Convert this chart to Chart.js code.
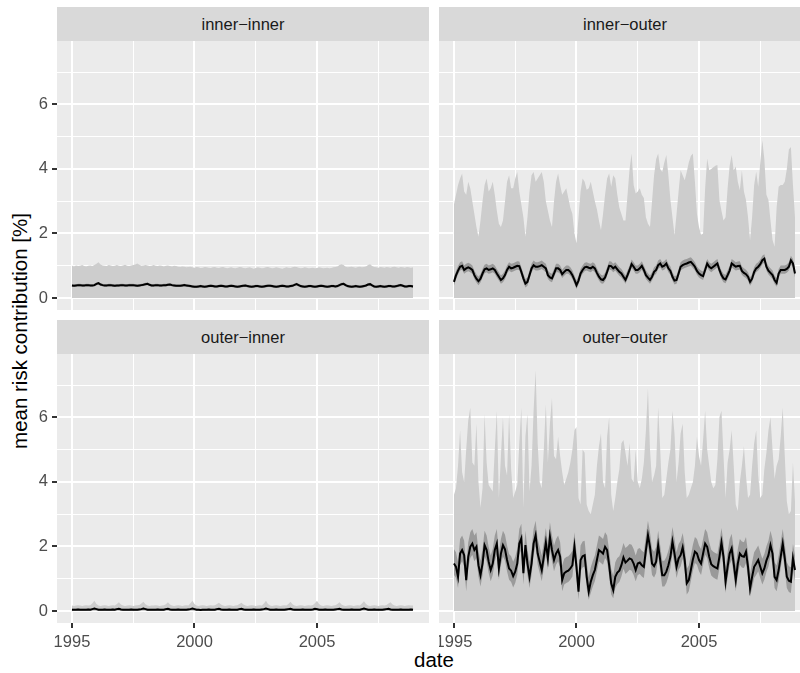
<!DOCTYPE html>
<html lang="en">
<head>
  <meta charset="UTF-8" />
  <title>mean risk contribution</title>
  <script src="https://cdn.jsdelivr.net/npm/chart.js"></script>
  <style>
    html, body { margin: 0; padding: 0; background: #fff; overflow: hidden; }
    body { width: 800px; height: 673px; position: relative; font-family: 'Liberation Sans', Arial, sans-serif; }
    .box { position: absolute; }
    .strip {
      position: absolute; background: #D9D9D9; color: #1A1A1A;
      font-size: 16.5px; text-align: center;
    }
    #ylab {
      position: absolute; left: 20px; top: 331px; white-space: nowrap;
      font-size: 20.5px; color: #000;
      transform: translate(-50%, -50%) rotate(-90deg);
    }
    #xlab {
      position: absolute; left: 434px; top: 660px; white-space: nowrap;
      font-size: 20.5px; color: #000;
      transform: translate(-50%, -50%);
    }
  </style>
</head>
<body>

<div id="ylab">mean risk contribution [%]</div>
<div id="xlab">date</div>

<div class="strip" style="left:57px;top:7px;width:372px;height:34px;line-height:34px">inner−inner</div>
<div class="strip" style="left:439px;top:7px;width:372px;height:34px;line-height:34px">inner−outer</div>
<div class="strip" style="left:57px;top:320px;width:372px;height:34px;line-height:34px">outer−inner</div>
<div class="strip" style="left:439px;top:320px;width:372px;height:34px;line-height:34px">outer−outer</div>

<div class="box" style="left:0;top:41px"><canvas id="c1" width="429" height="269"></canvas></div>
<div class="box" style="left:439px;top:41px"><canvas id="c2" width="372" height="269"></canvas></div>
<div class="box" style="left:0;top:354px"><canvas id="c3" width="429" height="309"></canvas></div>
<div class="box" style="left:439px;top:354px"><canvas id="c4" width="372" height="309"></canvas></div>

<script>
  // monthly observations, Jan 1995 .. Dec 2008
  const START_YEAR = 1995;
  const N_MONTHS = 168;

  const xTicks = [1995, 1997.5, 2000, 2002.5, 2005, 2007.5];
  const yTicks = [0, 1, 2, 3, 4, 5, 6, 7];

  // inner-inner
  const iiMean = [
    0.39,0.38,0.39,0.40,0.40,0.39,0.39,0.40,0.40,0.39,0.39,0.40,
    0.44,0.46,0.42,0.40,0.39,0.39,0.40,0.40,0.39,0.38,0.39,0.39,
    0.40,0.40,0.39,0.39,0.40,0.40,0.40,0.39,0.38,0.39,0.40,0.41,
    0.43,0.44,0.41,0.39,0.39,0.40,0.40,0.39,0.39,0.40,0.40,0.41,
    0.42,0.40,0.39,0.38,0.38,0.38,0.39,0.40,0.39,0.38,0.37,0.36,
    0.35,0.35,0.36,0.37,0.36,0.35,0.36,0.37,0.38,0.37,0.36,0.36,
    0.37,0.38,0.37,0.36,0.36,0.37,0.38,0.37,0.36,0.35,0.36,0.37,
    0.38,0.39,0.37,0.36,0.35,0.36,0.37,0.37,0.36,0.35,0.36,0.37,
    0.38,0.38,0.37,0.36,0.35,0.36,0.37,0.38,0.37,0.36,0.36,0.37,
    0.38,0.41,0.43,0.40,0.37,0.36,0.35,0.36,0.37,0.37,0.36,0.35,
    0.36,0.37,0.38,0.37,0.36,0.35,0.36,0.37,0.37,0.36,0.37,0.40,
    0.43,0.44,0.40,0.37,0.36,0.35,0.36,0.37,0.36,0.35,0.36,0.37,
    0.39,0.42,0.43,0.39,0.36,0.35,0.36,0.37,0.36,0.35,0.36,0.37,
    0.37,0.36,0.36,0.37,0.39,0.40,0.38,0.36,0.36,0.37,0.37,0.36
  ];
  const iiLo = [
    0.35,0.34,0.35,0.36,0.36,0.35,0.35,0.36,0.36,0.35,0.35,0.36,
    0.40,0.42,0.38,0.36,0.35,0.35,0.36,0.36,0.35,0.34,0.35,0.35,
    0.36,0.36,0.35,0.35,0.36,0.36,0.36,0.35,0.34,0.35,0.36,0.37,
    0.39,0.40,0.37,0.35,0.35,0.36,0.36,0.35,0.35,0.36,0.36,0.37,
    0.38,0.36,0.35,0.34,0.34,0.34,0.35,0.36,0.35,0.34,0.33,0.32,
    0.31,0.31,0.32,0.33,0.32,0.31,0.32,0.33,0.34,0.33,0.32,0.32,
    0.33,0.34,0.33,0.32,0.32,0.33,0.34,0.33,0.32,0.31,0.32,0.33,
    0.34,0.35,0.33,0.32,0.31,0.32,0.33,0.33,0.32,0.31,0.32,0.33,
    0.34,0.34,0.33,0.32,0.31,0.32,0.33,0.34,0.33,0.32,0.32,0.33,
    0.34,0.37,0.39,0.36,0.33,0.32,0.31,0.32,0.33,0.33,0.32,0.31,
    0.32,0.33,0.34,0.33,0.32,0.31,0.32,0.33,0.33,0.32,0.33,0.36,
    0.39,0.40,0.36,0.33,0.32,0.31,0.32,0.33,0.32,0.31,0.32,0.33,
    0.35,0.38,0.39,0.35,0.32,0.31,0.32,0.33,0.32,0.31,0.32,0.33,
    0.33,0.32,0.32,0.33,0.35,0.36,0.34,0.32,0.32,0.33,0.33,0.32
  ];
  const iiHi = [
    0.43,0.42,0.43,0.44,0.44,0.43,0.43,0.44,0.44,0.43,0.43,0.44,
    0.48,0.50,0.46,0.44,0.43,0.43,0.44,0.44,0.43,0.42,0.43,0.43,
    0.44,0.44,0.43,0.43,0.44,0.44,0.44,0.43,0.42,0.43,0.44,0.45,
    0.47,0.48,0.45,0.43,0.43,0.44,0.44,0.43,0.43,0.44,0.44,0.45,
    0.46,0.44,0.43,0.42,0.42,0.42,0.43,0.44,0.43,0.42,0.41,0.40,
    0.39,0.39,0.40,0.41,0.40,0.39,0.40,0.41,0.42,0.41,0.40,0.40,
    0.41,0.42,0.41,0.40,0.40,0.41,0.42,0.41,0.40,0.39,0.40,0.41,
    0.42,0.43,0.41,0.40,0.39,0.40,0.41,0.41,0.40,0.39,0.40,0.41,
    0.42,0.42,0.41,0.40,0.39,0.40,0.41,0.42,0.41,0.40,0.40,0.41,
    0.42,0.45,0.47,0.44,0.41,0.40,0.39,0.40,0.41,0.41,0.40,0.39,
    0.40,0.41,0.42,0.41,0.40,0.39,0.40,0.41,0.41,0.40,0.41,0.44,
    0.47,0.48,0.44,0.41,0.40,0.39,0.40,0.41,0.40,0.39,0.40,0.41,
    0.43,0.46,0.47,0.43,0.40,0.39,0.40,0.41,0.40,0.39,0.40,0.41,
    0.41,0.40,0.40,0.41,0.43,0.44,0.42,0.40,0.40,0.41,0.41,0.40
  ];
  const iiMax = [
    1.00,0.98,1.01,0.99,1.00,1.02,0.99,0.98,1.00,1.01,0.99,1.02,
    1.06,1.11,1.04,1.01,1.00,0.99,1.02,1.01,0.99,1.00,1.02,1.00,
    0.99,1.01,1.03,1.00,0.99,1.01,1.02,1.04,1.07,1.03,1.00,1.01,
    1.02,1.01,0.99,1.00,1.02,1.00,0.99,1.01,1.00,0.98,1.00,1.01,
    0.99,0.98,1.00,0.99,0.97,0.96,0.98,0.97,0.95,0.96,0.97,0.95,
    0.94,0.96,0.95,0.93,0.94,0.96,0.95,0.94,0.93,0.95,0.96,0.94,
    0.93,0.95,0.96,0.94,0.92,0.94,0.95,0.93,0.92,0.94,0.96,0.95,
    0.93,0.92,0.94,0.95,0.93,0.91,0.93,0.95,0.94,0.92,0.93,0.95,
    0.96,0.94,0.92,0.93,0.95,0.94,0.92,0.91,0.93,0.95,0.94,0.93,
    0.95,0.97,0.96,0.94,0.92,0.93,0.95,0.94,0.92,0.93,0.94,0.92,
    0.93,0.95,0.94,0.92,0.93,0.94,0.92,0.93,0.95,0.96,0.98,1.02,
    1.05,1.02,0.97,0.95,0.96,0.97,0.95,0.94,0.96,0.97,0.95,0.96,
    0.98,1.02,1.05,0.99,0.96,0.95,0.94,0.96,0.95,0.94,0.96,0.95,
    0.94,0.96,0.97,0.95,0.94,0.96,0.95,0.94,0.96,0.95,0.94,0.95
  ];

  // inner-outer
  const ioMean = [
    0.50,0.70,0.85,0.97,1.00,0.87,0.92,0.95,0.92,0.87,0.71,0.60,
    0.52,0.60,0.76,0.89,0.92,0.87,0.89,0.92,0.87,0.76,0.66,0.56,
    0.61,0.71,0.87,0.97,0.92,0.94,0.97,1.00,0.99,0.81,0.61,0.45,
    0.50,0.71,0.92,1.02,0.97,0.97,0.99,1.02,0.97,0.92,0.71,0.64,
    0.61,0.76,0.92,0.92,0.87,0.74,0.81,0.87,0.87,0.81,0.71,0.56,
    0.40,0.54,0.76,0.87,0.95,0.97,0.94,0.92,0.97,0.92,0.78,0.66,
    0.58,0.56,0.64,0.81,1.00,0.99,0.92,0.97,0.89,0.81,0.76,0.66,
    0.56,0.71,0.87,1.05,0.97,0.87,0.87,0.92,1.00,0.87,0.71,0.63,
    0.56,0.66,0.81,0.87,1.02,1.07,0.97,1.00,1.07,0.92,0.84,0.66,
    0.54,0.56,0.76,0.97,1.02,1.05,1.07,1.10,1.12,1.05,0.97,0.84,
    0.76,0.71,0.68,0.87,1.07,0.97,0.92,0.97,1.02,1.07,0.87,0.71,
    0.61,0.58,0.71,0.85,1.07,1.02,0.97,0.99,1.00,0.84,0.78,0.74,
    0.66,0.50,0.60,0.81,0.92,0.97,1.05,1.17,1.22,0.97,0.85,0.78,
    0.71,0.56,0.47,0.76,0.87,0.87,0.87,0.90,0.97,1.17,1.07,0.76
  ];
  const ioLo = [
    0.38,0.58,0.73,0.85,0.88,0.75,0.80,0.83,0.80,0.75,0.59,0.48,
    0.40,0.48,0.64,0.77,0.80,0.75,0.77,0.80,0.75,0.64,0.54,0.44,
    0.49,0.59,0.75,0.85,0.80,0.82,0.85,0.88,0.87,0.69,0.49,0.33,
    0.38,0.59,0.80,0.90,0.85,0.85,0.87,0.90,0.85,0.80,0.59,0.52,
    0.49,0.64,0.80,0.80,0.75,0.62,0.69,0.75,0.75,0.69,0.59,0.44,
    0.28,0.42,0.64,0.75,0.83,0.85,0.82,0.80,0.85,0.80,0.66,0.54,
    0.46,0.44,0.52,0.69,0.88,0.87,0.80,0.85,0.77,0.69,0.64,0.54,
    0.44,0.59,0.75,0.93,0.85,0.75,0.75,0.80,0.88,0.75,0.59,0.51,
    0.44,0.54,0.69,0.75,0.90,0.95,0.85,0.88,0.95,0.80,0.72,0.54,
    0.42,0.44,0.64,0.85,0.90,0.93,0.95,0.98,1.00,0.93,0.85,0.72,
    0.64,0.59,0.56,0.75,0.95,0.85,0.80,0.85,0.90,0.95,0.75,0.59,
    0.49,0.46,0.59,0.73,0.95,0.90,0.85,0.87,0.88,0.72,0.66,0.62,
    0.54,0.38,0.48,0.69,0.80,0.85,0.93,1.05,1.10,0.85,0.73,0.66,
    0.59,0.44,0.35,0.64,0.75,0.75,0.75,0.78,0.85,1.05,0.95,0.64
  ];
  const ioHi = [
    0.64,0.84,0.99,1.11,1.14,1.01,1.06,1.09,1.06,1.01,0.85,0.74,
    0.66,0.74,0.90,1.03,1.06,1.01,1.03,1.06,1.01,0.90,0.80,0.70,
    0.75,0.85,1.01,1.11,1.06,1.08,1.11,1.14,1.13,0.95,0.75,0.59,
    0.64,0.85,1.06,1.16,1.11,1.11,1.13,1.16,1.11,1.06,0.85,0.78,
    0.75,0.90,1.06,1.06,1.01,0.88,0.95,1.01,1.01,0.95,0.85,0.70,
    0.54,0.68,0.90,1.01,1.09,1.11,1.08,1.06,1.11,1.06,0.92,0.80,
    0.72,0.70,0.78,0.95,1.14,1.13,1.06,1.11,1.03,0.95,0.90,0.80,
    0.70,0.85,1.01,1.19,1.11,1.01,1.01,1.06,1.14,1.01,0.85,0.77,
    0.70,0.80,0.95,1.01,1.16,1.21,1.11,1.14,1.21,1.06,0.98,0.80,
    0.68,0.70,0.90,1.11,1.16,1.19,1.21,1.24,1.26,1.19,1.11,0.98,
    0.90,0.85,0.82,1.01,1.21,1.11,1.06,1.11,1.16,1.21,1.01,0.85,
    0.75,0.72,0.85,0.99,1.21,1.16,1.11,1.13,1.14,0.98,0.92,0.88,
    0.80,0.64,0.74,0.95,1.06,1.11,1.19,1.31,1.36,1.11,0.99,0.92,
    0.85,0.70,0.61,0.90,1.01,1.01,1.01,1.04,1.11,1.31,1.21,0.90
  ];
  const ioMax = [
    2.9,3.2,3.5,3.7,3.86,3.3,3.2,3.6,3.4,3.0,2.6,2.2,
    1.9,2.4,3.0,3.5,3.7,3.3,3.4,3.6,3.2,2.7,2.3,2.2,
    2.4,3.0,3.6,3.8,3.4,3.4,3.7,3.9,3.3,2.9,2.5,1.9,
    2.5,3.3,3.8,3.9,3.6,3.7,3.8,3.9,3.6,3.0,2.7,2.4,
    2.2,3.0,3.6,3.86,3.5,3.2,3.3,3.4,3.1,2.8,2.6,2.0,
    1.7,2.5,3.3,3.7,3.6,3.35,3.4,3.6,3.3,3.0,2.75,2.4,
    2.1,2.6,3.2,3.7,3.86,3.45,3.8,3.7,3.2,2.8,2.6,2.4,
    2.4,3.2,4.0,4.48,3.5,3.24,3.3,3.4,3.2,3.1,2.5,2.3,
    2.2,3.0,3.8,4.3,4.48,4.0,3.9,4.2,4.43,3.8,3.04,2.5,
    1.95,2.6,3.3,3.96,3.8,3.65,3.9,4.2,4.4,4.48,3.6,2.6,
    2.2,1.95,2.0,3.4,4.32,3.96,4.0,4.05,4.1,4.12,3.04,2.7,
    2.4,2.5,3.4,4.1,4.43,3.96,4.07,3.6,3.34,3.96,3.3,3.04,
    2.5,1.79,2.5,3.5,3.91,3.45,4.2,4.89,4.3,3.2,3.04,2.4,
    1.8,1.59,2.8,3.45,3.5,3.5,3.6,4.0,4.6,4.68,3.5,2.5
  ];

  // outer-inner
  const oiMean = [
    0.04,0.04,0.04,0.05,0.04,0.04,0.04,0.04,0.05,0.04,0.06,0.08,
    0.06,0.04,0.04,0.04,0.05,0.04,0.04,0.04,0.05,0.04,0.06,0.07,
    0.05,0.04,0.04,0.04,0.04,0.05,0.04,0.04,0.04,0.05,0.06,0.08,
    0.06,0.04,0.04,0.04,0.04,0.04,0.05,0.04,0.04,0.04,0.06,0.07,
    0.05,0.04,0.04,0.04,0.05,0.04,0.04,0.04,0.04,0.05,0.06,0.08,
    0.06,0.04,0.04,0.03,0.04,0.04,0.04,0.05,0.04,0.04,0.04,0.06,
    0.07,0.05,0.04,0.04,0.04,0.05,0.04,0.04,0.04,0.04,0.06,0.07,
    0.05,0.04,0.04,0.04,0.04,0.05,0.04,0.04,0.04,0.05,0.06,0.08,
    0.06,0.04,0.04,0.04,0.05,0.04,0.04,0.04,0.04,0.05,0.06,0.07,
    0.05,0.04,0.04,0.04,0.04,0.05,0.04,0.04,0.04,0.04,0.05,0.07,
    0.06,0.04,0.04,0.04,0.05,0.04,0.04,0.04,0.04,0.05,0.06,0.07,
    0.05,0.04,0.04,0.04,0.04,0.05,0.04,0.04,0.04,0.04,0.06,0.08,
    0.06,0.04,0.04,0.04,0.05,0.04,0.04,0.04,0.04,0.05,0.06,0.07,
    0.05,0.04,0.04,0.04,0.04,0.05,0.04,0.04,0.04,0.04,0.05,0.04
  ];
  const oiLo = [
    0.02,0.02,0.02,0.03,0.02,0.02,0.02,0.02,0.03,0.02,0.04,0.06,
    0.04,0.02,0.02,0.02,0.03,0.02,0.02,0.02,0.03,0.02,0.04,0.05,
    0.03,0.02,0.02,0.02,0.02,0.03,0.02,0.02,0.02,0.03,0.04,0.06,
    0.04,0.02,0.02,0.02,0.02,0.02,0.03,0.02,0.02,0.02,0.04,0.05,
    0.03,0.02,0.02,0.02,0.03,0.02,0.02,0.02,0.02,0.03,0.04,0.06,
    0.04,0.02,0.02,0.01,0.02,0.02,0.02,0.03,0.02,0.02,0.02,0.04,
    0.05,0.03,0.02,0.02,0.02,0.03,0.02,0.02,0.02,0.02,0.04,0.05,
    0.03,0.02,0.02,0.02,0.02,0.03,0.02,0.02,0.02,0.03,0.04,0.06,
    0.04,0.02,0.02,0.02,0.03,0.02,0.02,0.02,0.02,0.03,0.04,0.05,
    0.03,0.02,0.02,0.02,0.02,0.03,0.02,0.02,0.02,0.02,0.03,0.05,
    0.04,0.02,0.02,0.02,0.03,0.02,0.02,0.02,0.02,0.03,0.04,0.05,
    0.03,0.02,0.02,0.02,0.02,0.03,0.02,0.02,0.02,0.02,0.04,0.06,
    0.04,0.02,0.02,0.02,0.03,0.02,0.02,0.02,0.02,0.03,0.04,0.05,
    0.03,0.02,0.02,0.02,0.02,0.03,0.02,0.02,0.02,0.02,0.03,0.02
  ];
  const oiHi = [
    0.07,0.07,0.07,0.08,0.07,0.07,0.07,0.07,0.08,0.07,0.09,0.11,
    0.09,0.07,0.07,0.07,0.08,0.07,0.07,0.07,0.08,0.07,0.09,0.10,
    0.08,0.07,0.07,0.07,0.07,0.08,0.07,0.07,0.07,0.08,0.09,0.11,
    0.09,0.07,0.07,0.07,0.07,0.07,0.08,0.07,0.07,0.07,0.09,0.10,
    0.08,0.07,0.07,0.07,0.08,0.07,0.07,0.07,0.07,0.08,0.09,0.11,
    0.09,0.07,0.07,0.06,0.07,0.07,0.07,0.08,0.07,0.07,0.07,0.09,
    0.10,0.08,0.07,0.07,0.07,0.08,0.07,0.07,0.07,0.07,0.09,0.10,
    0.08,0.07,0.07,0.07,0.07,0.08,0.07,0.07,0.07,0.08,0.09,0.11,
    0.09,0.07,0.07,0.07,0.08,0.07,0.07,0.07,0.07,0.08,0.09,0.10,
    0.08,0.07,0.07,0.07,0.07,0.08,0.07,0.07,0.07,0.07,0.08,0.10,
    0.09,0.07,0.07,0.07,0.08,0.07,0.07,0.07,0.07,0.08,0.09,0.10,
    0.08,0.07,0.07,0.07,0.07,0.08,0.07,0.07,0.07,0.07,0.09,0.11,
    0.09,0.07,0.07,0.07,0.08,0.07,0.07,0.07,0.07,0.08,0.09,0.10,
    0.08,0.07,0.07,0.07,0.07,0.08,0.07,0.07,0.07,0.07,0.08,0.07
  ];
  const oiMax = [
    0.17,0.16,0.17,0.18,0.17,0.16,0.17,0.18,0.17,0.18,0.24,0.32,
    0.22,0.17,0.16,0.17,0.18,0.17,0.16,0.17,0.18,0.17,0.22,0.27,
    0.20,0.17,0.16,0.17,0.18,0.17,0.16,0.17,0.18,0.19,0.23,0.29,
    0.21,0.17,0.16,0.17,0.17,0.18,0.17,0.16,0.17,0.18,0.21,0.27,
    0.20,0.17,0.16,0.17,0.18,0.17,0.16,0.17,0.18,0.17,0.24,0.32,
    0.22,0.17,0.16,0.17,0.18,0.17,0.16,0.17,0.18,0.17,0.18,0.22,
    0.26,0.20,0.17,0.16,0.17,0.18,0.17,0.16,0.17,0.18,0.22,0.26,
    0.20,0.17,0.16,0.17,0.18,0.17,0.16,0.17,0.18,0.17,0.23,0.32,
    0.22,0.17,0.16,0.17,0.18,0.17,0.16,0.17,0.18,0.17,0.22,0.29,
    0.21,0.17,0.16,0.17,0.18,0.17,0.16,0.17,0.18,0.17,0.19,0.24,
    0.32,0.22,0.17,0.16,0.17,0.18,0.17,0.16,0.17,0.18,0.22,0.27,
    0.20,0.17,0.16,0.17,0.18,0.17,0.16,0.17,0.18,0.17,0.23,0.30,
    0.22,0.17,0.16,0.17,0.18,0.17,0.16,0.17,0.18,0.17,0.19,0.23,
    0.27,0.20,0.17,0.16,0.17,0.18,0.17,0.16,0.17,0.18,0.17,0.17
  ];

  // outer-outer
  const ooMean = [
    1.47,1.37,1.06,1.78,1.89,1.73,0.96,1.68,1.99,2.09,1.89,1.99,
    1.42,1.11,1.47,2.04,1.89,1.53,1.27,1.47,1.89,2.09,1.32,1.78,
    2.04,1.91,1.58,1.32,1.25,1.08,1.22,1.47,2.09,2.25,1.17,2.04,
    1.47,1.06,1.47,2.09,2.35,1.78,1.53,1.27,1.68,2.12,1.63,2.30,
    1.89,1.58,1.78,1.89,1.68,0.96,1.17,1.22,1.25,1.32,1.42,1.99,
    1.37,0.60,1.58,1.70,1.73,1.06,0.60,0.91,1.11,1.27,1.58,1.89,
    1.84,1.78,1.99,1.89,1.42,0.86,0.65,1.06,1.19,1.25,1.42,1.66,
    1.50,1.56,1.63,1.60,1.47,1.27,1.47,1.50,1.42,1.37,1.89,2.35,
    1.99,1.47,1.39,1.53,2.04,1.58,1.11,1.11,1.22,1.42,1.68,2.15,
    1.78,1.37,1.63,1.73,1.97,1.58,0.86,0.96,1.27,1.60,1.84,1.78,
    1.58,1.47,1.78,2.09,1.99,1.68,1.45,1.39,1.35,1.32,1.68,2.12,
    1.68,0.91,1.37,1.78,1.94,1.47,0.96,1.47,1.78,1.70,1.68,1.84,
    1.37,0.70,1.06,1.37,1.47,1.58,1.37,1.17,1.32,1.56,1.73,2.04,
    1.78,1.06,0.96,1.27,1.68,2.09,1.63,1.06,0.94,0.91,1.63,1.27
  ];
  const ooLo = [
    1.12,1.02,0.71,1.43,1.54,1.38,0.61,1.33,1.64,1.74,1.54,1.64,
    1.07,0.76,1.12,1.69,1.54,1.18,0.92,1.12,1.54,1.74,0.97,1.43,
    1.69,1.56,1.23,0.97,0.90,0.73,0.87,1.12,1.74,1.90,0.82,1.69,
    1.12,0.71,1.12,1.74,2.00,1.43,1.18,0.92,1.33,1.77,1.28,1.95,
    1.54,1.23,1.43,1.54,1.33,0.61,0.82,0.87,0.90,0.97,1.07,1.64,
    1.02,0.35,1.23,1.35,1.38,0.71,0.35,0.56,0.76,0.92,1.23,1.54,
    1.49,1.43,1.64,1.54,1.07,0.51,0.40,0.71,0.84,0.90,1.07,1.31,
    1.15,1.21,1.28,1.25,1.12,0.92,1.12,1.15,1.07,1.02,1.54,2.00,
    1.64,1.12,1.04,1.18,1.69,1.23,0.76,0.76,0.87,1.07,1.33,1.80,
    1.43,1.02,1.28,1.38,1.62,1.23,0.51,0.61,0.92,1.25,1.49,1.43,
    1.23,1.12,1.43,1.74,1.64,1.33,1.10,1.04,1.00,0.97,1.33,1.77,
    1.33,0.56,1.02,1.43,1.59,1.12,0.61,1.12,1.43,1.35,1.33,1.49,
    1.02,0.45,0.71,1.02,1.12,1.23,1.02,0.82,0.97,1.21,1.38,1.69,
    1.43,0.71,0.61,0.92,1.33,1.74,1.28,0.71,0.59,0.56,1.28,0.92
  ];
  const ooHi = [
    1.92,1.82,1.51,2.23,2.34,2.18,1.41,2.13,2.44,2.54,2.34,2.44,
    1.87,1.56,1.92,2.49,2.34,1.98,1.72,1.92,2.34,2.54,1.77,2.23,
    2.49,2.36,2.03,1.77,1.70,1.53,1.67,1.92,2.54,2.70,1.62,2.49,
    1.92,1.51,1.92,2.54,2.80,2.23,1.98,1.72,2.13,2.57,2.08,2.75,
    2.34,2.03,2.23,2.34,2.13,1.41,1.62,1.67,1.70,1.77,1.87,2.44,
    1.82,1.05,2.03,2.15,2.18,1.51,1.05,1.36,1.56,1.72,2.03,2.34,
    2.29,2.23,2.44,2.34,1.87,1.31,1.10,1.51,1.64,1.70,1.87,2.11,
    1.95,2.01,2.08,2.05,1.92,1.72,1.92,1.95,1.87,1.82,2.34,2.80,
    2.44,1.92,1.84,1.98,2.49,2.03,1.56,1.56,1.67,1.87,2.13,2.60,
    2.23,1.82,2.08,2.18,2.42,2.03,1.31,1.41,1.72,2.05,2.29,2.23,
    2.03,1.92,2.23,2.54,2.44,2.13,1.90,1.84,1.80,1.77,2.13,2.57,
    2.13,1.36,1.82,2.23,2.39,1.92,1.41,1.92,2.23,2.15,2.13,2.29,
    1.82,1.15,1.51,1.82,1.92,2.03,1.82,1.62,1.77,2.01,2.18,2.49,
    2.23,1.51,1.41,1.72,2.13,2.54,2.08,1.51,1.39,1.36,2.08,1.72
  ];
  const ooMax = [
    3.6,3.8,4.5,5.6,4.3,4.0,5.0,5.9,6.3,4.6,4.5,5.8,
    4.0,3.2,3.8,6.1,4.6,3.9,3.8,3.7,5.0,6.2,3.5,4.8,
    6.0,4.5,4.2,6.1,4.4,3.5,3.7,3.9,5.2,6.3,3.2,5.4,
    6.1,3.7,4.5,6.2,7.46,5.2,4.0,3.8,5.0,6.4,4.6,5.8,
    6.6,4.8,4.7,5.4,4.8,4.3,3.9,4.1,4.3,4.6,5.0,5.6,
    5.7,3.5,3.3,5.0,4.9,3.3,3.1,3.0,3.3,3.6,4.5,5.1,
    5.5,4.0,3.8,5.4,6.0,3.6,3.1,3.5,4.0,4.4,5.2,5.3,
    4.9,4.5,5.2,4.1,4.0,5.0,4.0,3.8,4.1,4.6,5.6,6.9,
    5.0,4.0,4.2,4.5,6.3,5.0,3.5,3.6,4.1,4.6,5.0,6.2,
    5.5,4.0,4.6,5.5,5.8,4.3,3.5,3.6,3.8,4.0,4.5,5.4,
    4.8,4.5,5.3,6.2,5.0,4.5,4.0,3.8,3.9,4.7,6.0,6.2,
    4.8,3.5,4.6,5.0,5.6,4.5,3.3,3.1,4.0,4.5,5.1,4.2,
    3.5,3.6,4.5,5.2,5.6,4.2,3.5,3.6,4.4,4.9,5.6,6.0,
    5.0,4.1,4.5,4.7,5.4,6.3,4.8,3.4,3.0,3.1,4.6,3.4
  ];

  const X_MIN = 1994.39, X_MAX = 2009.57;
  const Y_MIN = -0.37, Y_MAX = 7.96;
  const LIGHT = '#CDCDCD';
  const DARK = '#9A9A9A';
  const FONT = { family: "'Liberation Sans', Arial, sans-serif", size: 16.5 };

  const dates = Array.from({ length: N_MONTHS }, (_, i) => START_YEAR + i / 12);
  const pts = arr => arr.map((v, i) => ({ x: dates[i], y: v }));

  // grey panel background behind the grid
  const panelBg = {
    id: 'panelBg',
    beforeDraw(chart) {
      const { ctx, chartArea: a } = chart;
      ctx.save();
      ctx.fillStyle = '#EBEBEB';
      ctx.fillRect(a.left, a.top, a.right - a.left, a.bottom - a.top);
      ctx.restore();
    }
  };

  function panel(id, s, showY, showX) {
    const none = 'rgba(0,0,0,0)';
    const band = (data, fill, color) => ({
      data: pts(data), fill: fill, backgroundColor: color,
      borderColor: none, borderWidth: 0, pointRadius: 0
    });
    new Chart(document.getElementById(id), {
      type: 'line',
      data: {
        datasets: [
          { data: pts(s.mean), fill: false, borderColor: '#000', borderWidth: 2, pointRadius: 0 },
          band(s.hi, '+1', DARK),
          band(s.lo, false, none),
          band(s.max, 'origin', LIGHT)
        ]
      },
      options: {
        responsive: false,
        animation: false,
        events: [],
        layout: { padding: 0, autoPadding: false },
        plugins: { legend: { display: false }, tooltip: { enabled: false } },
        elements: { line: { tension: 0 } },
        scales: {
          x: {
            type: 'linear', min: X_MIN, max: X_MAX,
            afterBuildTicks: sc => { sc.ticks = xTicks.map(v => ({ value: v })); },
            afterFit: sc => { sc.height = showX ? 40 : 0; sc.paddingLeft = 0; sc.paddingRight = 0; },
            ticks: {
              display: showX, autoSkip: false, maxRotation: 0, padding: 5,
              color: '#4D4D4D', font: FONT,
              callback: v => (v % 5 === 0 ? String(v) : '')
            },
            grid: {
              color: '#FFFFFF',
              lineWidth: c => (c.tick && c.tick.value % 5 === 0 ? 2 : 1),
              drawTicks: showX, tickLength: 5, tickWidth: 2,
              tickColor: c => (c.tick && c.tick.value % 5 === 0 ? '#333333' : none)
            },
            border: { display: false }
          },
          y: {
            type: 'linear', min: Y_MIN, max: Y_MAX,
            afterBuildTicks: sc => { sc.ticks = yTicks.map(v => ({ value: v })); },
            afterFit: sc => { sc.width = showY ? 57 : 0; sc.paddingTop = 0; sc.paddingBottom = 0; },
            ticks: {
              display: showY, autoSkip: false, padding: 4,
              color: '#4D4D4D', font: FONT,
              callback: v => (v % 2 === 0 ? String(v) : '')
            },
            grid: {
              color: '#FFFFFF',
              lineWidth: c => (c.tick && c.tick.value % 2 === 0 ? 2 : 1),
              drawTicks: showY, tickLength: 5, tickWidth: 2,
              tickColor: c => (c.tick && c.tick.value % 2 === 0 ? '#333333' : none)
            },
            border: { display: false }
          }
        }
      },
      plugins: [panelBg]
    });
  }

  panel('c1', { mean: iiMean, lo: iiLo, hi: iiHi, max: iiMax }, true, false);
  panel('c2', { mean: ioMean, lo: ioLo, hi: ioHi, max: ioMax }, false, false);
  panel('c3', { mean: oiMean, lo: oiLo, hi: oiHi, max: oiMax }, true, true);
  panel('c4', { mean: ooMean, lo: ooLo, hi: ooHi, max: ooMax }, false, true);
</script>

</body>
</html>
